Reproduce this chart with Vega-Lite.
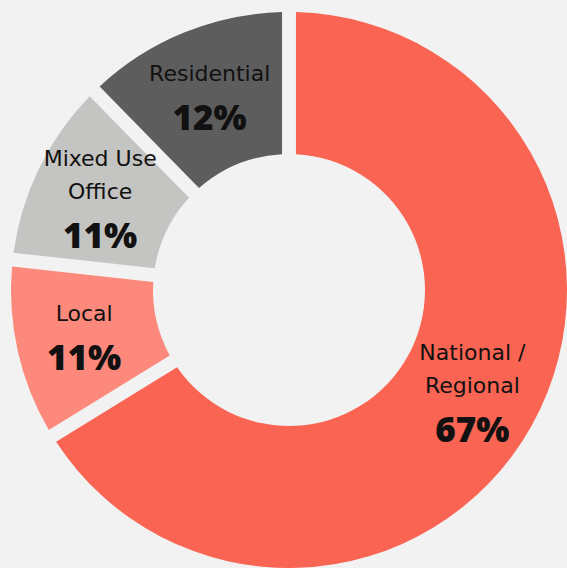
{
  "$schema": "https://vega.github.io/schema/vega-lite/v6.json",
  "width": 567,
  "height": 568,
  "autosize": {"type": "fit", "contains": "padding"},
  "padding": {"left": 11, "top": 12, "right": 0, "bottom": 0},
  "background": "#F2F2F2",
  "config": {"view": {"stroke": null}},
  "data": {
    "values": [
      {"seq": 1, "name": "National /\nRegional", "share": 0.666},
      {"seq": 2, "name": "Local", "share": 0.106},
      {"seq": 3, "name": "Mixed Use\nOffice", "share": 0.11},
      {"seq": 4, "name": "Residential", "share": 0.124}
    ]
  },
  "encoding": {
    "theta": {"field": "share", "type": "quantitative", "stack": true},
    "order": {"field": "seq", "type": "quantitative"}
  },
  "layer": [
    {
      "mark": {"type": "arc", "innerRadius": 136, "outerRadius": 278, "padAngle": 0.045},
      "encoding": {
        "color": {
          "field": "name",
          "type": "nominal",
          "scale": {
            "domain": ["National /\nRegional", "Local", "Mixed Use\nOffice", "Residential"],
            "range": ["#F96453", "#FC897B", "#C4C4C2", "#5D5D5D"]
          },
          "legend": null
        }
      }
    },
    {
      "mark": {"type": "text", "radius": 210, "font": "DejaVu Sans", "fontSize": 22, "baseline": "alphabetic", "lineBreak": "\n", "lineHeight": 33, "dy": -15, "color": "#111111"},
      "encoding": {
        "text": {"condition": {"test": "indexof(datum.name, '\\n') < 0", "field": "name", "type": "nominal"}, "value": ""}
      }
    },
    {
      "mark": {"type": "text", "radius": 210, "font": "DejaVu Sans", "fontSize": 22, "baseline": "alphabetic", "lineBreak": "\n", "lineHeight": 33, "dy": -32, "color": "#111111"},
      "encoding": {
        "text": {"condition": {"test": "indexof(datum.name, '\\n') >= 0", "field": "name", "type": "nominal"}, "value": ""}
      }
    },
    {
      "mark": {"type": "text", "radius": 210, "font": "Open Sans", "fontWeight": 800, "fontSize": 35, "baseline": "alphabetic", "dy": 34, "color": "#111111"},
      "encoding": {
        "text": {"condition": {"test": "indexof(datum.name, '\\n') < 0", "field": "share", "type": "quantitative", "format": ".0%"}, "value": ""}
      }
    },
    {
      "mark": {"type": "text", "radius": 210, "font": "Open Sans", "fontWeight": 800, "fontSize": 35, "baseline": "alphabetic", "dy": 50, "color": "#111111"},
      "encoding": {
        "text": {"condition": {"test": "indexof(datum.name, '\\n') >= 0", "field": "share", "type": "quantitative", "format": ".0%"}, "value": ""}
      }
    }
  ]
}
